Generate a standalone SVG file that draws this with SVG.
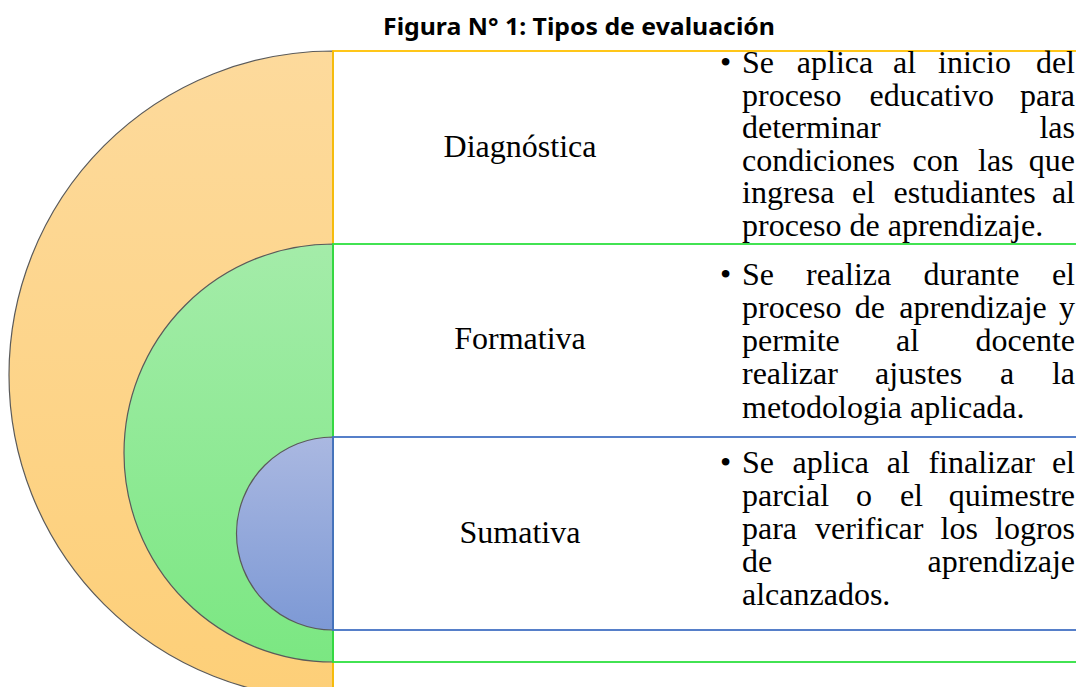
<svg xmlns="http://www.w3.org/2000/svg" width="1076" height="687" viewBox="0 0 1076 687">
<style>
.t{font-family:"Liberation Serif","Times New Roman",serif;font-size:32px;fill:#000}
.lbl{text-anchor:middle}
.e{text-anchor:end}
.title{font-family:"Noto Sans","Open Sans","Liberation Sans",sans-serif;font-weight:bold;font-size:23.5px;fill:#000}
.arc{stroke:#5a5a5a;stroke-width:1.2}
.frame{fill:none;stroke-width:1.8}
</style>
<defs>
<linearGradient id="gO" x1="0" y1="0" x2="0" y2="1"><stop offset="0" stop-color="#FDDA9C"/><stop offset="1" stop-color="#FDCF78"/></linearGradient>
<linearGradient id="gG" x1="0" y1="0" x2="0" y2="1"><stop offset="0" stop-color="#A4ECA9"/><stop offset="1" stop-color="#7BE782"/></linearGradient>
<linearGradient id="gB" x1="0" y1="0" x2="0" y2="1"><stop offset="0" stop-color="#AAB8E1"/><stop offset="1" stop-color="#7D99D5"/></linearGradient>
</defs>
<rect width="1076" height="687" fill="#fff"/>
<text class="title" x="579" y="35" text-anchor="middle" textLength="392" lengthAdjust="spacingAndGlyphs">Figura N° 1: Tipos de evaluación</text>

<g id="diagnostica">
<path class="arc" d="M333 51 A324 324 0 0 0 333 699 Z" fill="url(#gO)"/>
<rect class="frame" x="333" y="51" width="760" height="660" stroke="#FFC000"/>
<text class="t lbl" x="520" y="157">Diagnóstica</text>
<text class="t" x="720" y="73">•</text>
<text class="t"><tspan x="742" y="73">Se</tspan><tspan x="796.8" y="73">aplica</tspan><tspan x="893" y="73">al</tspan><tspan x="938" y="73">inicio</tspan><tspan class="e" x="1075" y="73">del</tspan></text>
<text class="t"><tspan x="742" y="105.5">proceso</tspan><tspan x="869.5" y="105.5">educativo</tspan><tspan class="e" x="1075" y="105.5">para</tspan></text>
<text class="t"><tspan x="742" y="138">determinar</tspan><tspan class="e" x="1075" y="138">las</tspan></text>
<text class="t"><tspan x="742" y="170.5">condiciones</tspan><tspan x="912.5" y="170.5">con</tspan><tspan x="978" y="170.5">las</tspan><tspan class="e" x="1075" y="170.5">que</tspan></text>
<text class="t"><tspan x="742" y="203">ingresa</tspan><tspan x="851.9" y="203">el</tspan><tspan x="893.5" y="203">estudiantes</tspan><tspan class="e" x="1075" y="203">al</tspan></text>
<text class="t" x="742" y="235.5">proceso de aprendizaje.</text>
</g>

<g id="formativa">
<path class="arc" d="M333 244 A209 209 0 0 0 333 662 Z" fill="url(#gG)"/>
<rect class="frame" x="333" y="244" width="760" height="418" stroke="#2EE040"/>
<text class="t lbl" x="520" y="349">Formativa</text>
<text class="t" x="720" y="285">•</text>
<text class="t"><tspan x="742" y="285">Se</tspan><tspan x="806" y="285">realiza</tspan><tspan x="923.5" y="285">durante</tspan><tspan class="e" x="1075" y="285">el</tspan></text>
<text class="t"><tspan x="742" y="318">proceso</tspan><tspan x="854.8" y="318">de</tspan><tspan x="899.3" y="318">aprendizaje</tspan><tspan class="e" x="1075" y="318">y</tspan></text>
<text class="t"><tspan x="742" y="351">permite</tspan><tspan x="896" y="351">al</tspan><tspan class="e" x="1075" y="351">docente</tspan></text>
<text class="t"><tspan x="742" y="384">realizar</tspan><tspan x="875.1" y="384">ajustes</tspan><tspan x="1000" y="384">a</tspan><tspan class="e" x="1075" y="384">la</tspan></text>
<text class="t" x="742" y="417.5">metodologia aplicada.</text>
</g>

<g id="sumativa">
<path class="arc" d="M333 437 A96.5 96.5 0 0 0 333 630 Z" fill="url(#gB)"/>
<rect class="frame" x="333" y="437" width="760" height="193" stroke="#4472C4"/>
<text class="t lbl" x="520" y="543">Sumativa</text>
<text class="t" x="720" y="473">•</text>
<text class="t"><tspan x="742" y="473">Se</tspan><tspan x="792.5" y="473">aplica</tspan><tspan x="886.7" y="473">al</tspan><tspan x="928.4" y="473">finalizar</tspan><tspan class="e" x="1075" y="473">el</tspan></text>
<text class="t"><tspan x="742" y="506">parcial</tspan><tspan x="855.9" y="506">o</tspan><tspan x="899.9" y="506">el</tspan><tspan class="e" x="1075" y="506">quimestre</tspan></text>
<text class="t"><tspan x="742" y="539">para</tspan><tspan x="815.1" y="539">verificar</tspan><tspan x="940.6" y="539">los</tspan><tspan class="e" x="1075" y="539">logros</tspan></text>
<text class="t"><tspan x="742" y="572">de</tspan><tspan class="e" x="1075" y="572">aprendizaje</tspan></text>
<text class="t" x="742" y="605">alcanzados.</text>
</g>

<g id="connectors"></g>
</svg>
